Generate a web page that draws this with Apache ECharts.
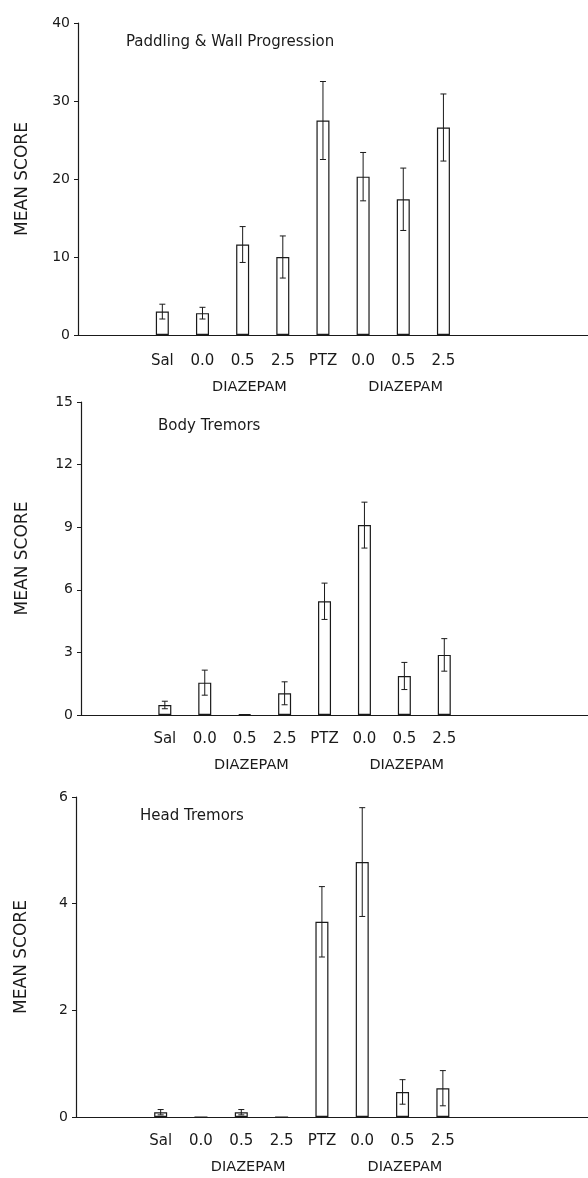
<!DOCTYPE html>
<html>
<head>
<meta charset="utf-8">
<script src="https://cdn.jsdelivr.net/npm/echarts@6/dist/echarts.min.js"></script>
<style>
  html, body { margin: 0; padding: 0; background: #fff; }
  #main { width: 588px; height: 1178px; }
</style>
</head>
<body>
<div id="main"></div>
<script>
// groups on the x axis
var categories = ["Sal", "0.0", "0.5", "2.5", "PTZ", "0.0", "0.5", "2.5"];
var groupName = "DIAZEPAM";
var groupAt = [2.17, 6.06]; // where the DIAZEPAM word sits under the doses

var panelTitles = ["Paddling & Wall Progression", "Body Tremors", "Head Tremors"];

// mean score and error (sem)
var paddlingMean = [3.0, 2.8, 11.6, 10.0, 27.5, 20.3, 17.4, 26.6];
var paddlingSem  = [0.95, 0.75, 2.3, 2.7, 5.0, 3.1, 4.0, 4.3];
var bodyMean = [0.48, 1.55, 0.05, 1.04, 5.45, 9.1, 1.87, 2.88];
var bodySem  = [0.18, 0.6, 0, 0.55, 0.87, 1.1, 0.65, 0.78];
var headMean = [0.09, 0, 0.09, 0, 3.66, 4.78, 0.47, 0.54];
var headSem  = [0.05, 0, 0.05, 0, 0.66, 1.02, 0.23, 0.33];

var yMax = [40, 15, 6];
var yStep = [10, 3, 2];

var means = [paddlingMean, bodyMean, headMean];
var sems = [paddlingSem, bodySem, headSem];

var font = "DejaVu Sans";
var ink = "#1a1a1a";

// layout of the three panels
var grids = [
    {left: 78, right: 0, top: 23, height: 312},
    {left: 81, right: 0, top: 402, height: 313},
    {left: 76, right: 0, top: 797, height: 320}
];
var titlePos = [[121, 30], [153, 414], [135, 804]];
var labelMargin = [19, 17, 17];
var nameGaps = [47, 50, 46];

function renderErr (params, api) {
    var x = api.value(0), m = api.value(1), s = api.value(2);
    if (!s) return;
    var hi = api.coord([x, m + s]);
    var lo = api.coord([x, m - s]);
    var hw = 3;
    var st = {stroke: ink, lineWidth: 1};
    return {
        type: "group",
        children: [
            {type: "line", shape: {x1: hi[0], y1: hi[1], x2: lo[0], y2: lo[1]}, style: st},
            {type: "line", shape: {x1: hi[0] - hw, y1: hi[1], x2: hi[0] + hw, y2: hi[1]}, style: st},
            {type: "line", shape: {x1: lo[0] - hw, y1: lo[1], x2: lo[0] + hw, y2: lo[1]}, style: st}
        ]
    };
}

var title = [], xAxis = [], yAxis = [], series = [];
panelTitles.forEach(function (t, p) {
    title.push({
        text: t, left: titlePos[p][0], top: titlePos[p][1],
        textStyle: {fontFamily: font, fontSize: 15, fontWeight: "normal", color: ink}
    });
    // category axis (value axis so the bars keep their spacing)
    xAxis.push({
        type: "value", gridIndex: p, min: -2.1, max: 10.6, position: "bottom",
        splitLine: {show: false},
        axisTick: {show: false},
        axisLine: {show: true, onZero: false, lineStyle: {color: ink, width: 1.2}},
        axisLabel: {
            customValues: categories.map(function (c, i) { return i; }),
            formatter: function (v) { return categories[Math.round(v)]; },
            fontFamily: font, fontSize: 15, color: ink, margin: labelMargin[p]
        }
    });
    // group labels below the doses
    xAxis.push({
        type: "value", gridIndex: p, min: -2.1, max: 10.6, position: "bottom",
        splitLine: {show: false},
        axisTick: {show: false},
        axisLine: {show: false, onZero: false},
        axisLabel: {
            customValues: groupAt,
            formatter: function () { return groupName; },
            fontFamily: font, fontSize: 14.5, color: ink, margin: labelMargin[p] + 26
        }
    });
    yAxis.push({
        type: "value", gridIndex: p, min: 0, max: yMax[p], interval: yStep[p],
        position: "left",
        name: "MEAN SCORE", nameLocation: "middle", nameGap: nameGaps[p], nameRotate: 90,
        nameTextStyle: {fontFamily: font, fontSize: 17, color: ink},
        splitLine: {show: false},
        axisLine: {show: true, onZero: false, lineStyle: {color: ink, width: 1.2}},
        axisTick: {show: true, inside: false, length: 4, lineStyle: {color: ink}},
        axisLabel: {fontFamily: font, fontSize: 14, color: ink, margin: 8}
    });
    var barData = means[p].map(function (v, i) { return [i, v]; });
    var errData = means[p].map(function (v, i) { return [i, v, sems[p][i]]; });
    series.push({
        type: "bar", xAxisIndex: p * 2, yAxisIndex: p, barWidth: 13,
        data: barData,
        itemStyle: {color: "#fff", borderColor: ink, borderWidth: 1.2},
        silent: true
    });
    series.push({
        type: "custom", xAxisIndex: p * 2, yAxisIndex: p,
        renderItem: renderErr, encode: {x: 0, y: 1},
        data: errData, z: 5, silent: true
    });
});

var myChart = echarts.init(document.getElementById("main"));
myChart.setOption({
    animation: false,
    backgroundColor: "#fff",
    title: title,
    grid: grids,
    xAxis: xAxis,
    yAxis: yAxis,
    series: series
});
</script>
</body>
</html>
